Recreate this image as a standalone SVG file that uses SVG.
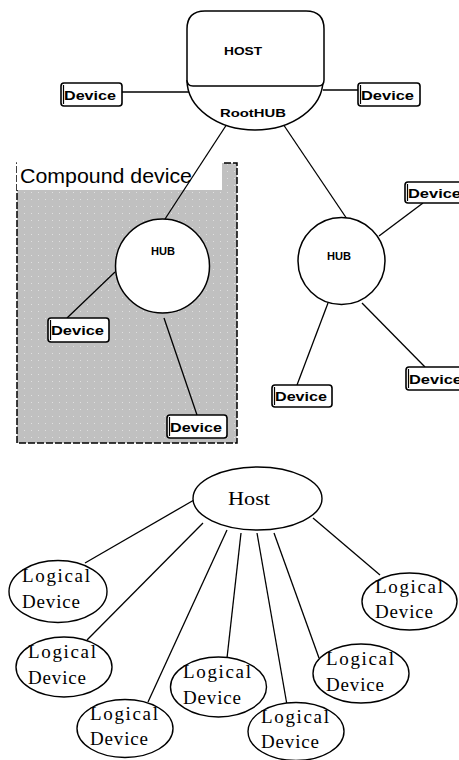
<svg xmlns="http://www.w3.org/2000/svg" width="459" height="760" viewBox="0 0 459 760">
<defs>
<pattern id="dots" x="0" y="0" width="7" height="7" patternUnits="userSpaceOnUse">
<rect width="7" height="7" fill="#c0c0c0"/>
<rect x="3" y="3" width="1" height="1" fill="#e0e0e0"/>
</pattern>
</defs>
<style>
.ln{stroke:#000;stroke-width:1.3;fill:none}
.shape{stroke:#000;stroke-width:1.5;fill:#fff}
.dev{stroke:#000;stroke-width:1.6;fill:#fff}
.devin{stroke:#000;stroke-width:1.2;fill:none}
.devt{font-family:"Liberation Sans",Arial,sans-serif;font-weight:bold;font-size:13px;fill:#000}
.hub{font-family:"Liberation Sans",Arial,sans-serif;font-weight:bold;font-size:11px;fill:#000;text-anchor:middle}
.ser{font-family:"Liberation Serif","Times New Roman",serif;font-size:19px;fill:#000}
.lg{stroke:#000;stroke-width:1.4;fill:#fff}
</style>
<rect width="459" height="760" fill="#fff"/>

<g id="compound">
<rect x="17" y="163" width="220" height="280" fill="url(#dots)" stroke="#000" stroke-width="1.5" stroke-dasharray="7 2"/>
<rect x="17" y="162" width="205" height="28" fill="#fff"/>
<text x="20" y="183" font-family="'Liberation Sans',Arial,sans-serif" font-size="20" textLength="172" lengthAdjust="spacingAndGlyphs">Compound device</text>
</g>

<g id="connectors">
<line class="ln" x1="121" y1="92" x2="190" y2="92"/>
<line class="ln" x1="323" y1="90" x2="358" y2="90"/>
<line class="ln" x1="227" y1="124" x2="165" y2="219"/>
<line class="ln" x1="283" y1="124" x2="347" y2="219"/>
<line class="ln" x1="115" y1="272" x2="67" y2="318"/>
<line class="ln" x1="164" y1="318" x2="197" y2="415"/>
<line class="ln" x1="379" y1="236" x2="423" y2="203"/>
<line class="ln" x1="362" y1="303" x2="425" y2="367"/>
<line class="ln" x1="328" y1="303" x2="297" y2="385"/>
<line class="ln" x1="194" y1="500" x2="85" y2="563"/>
<line class="ln" x1="203" y1="523" x2="87" y2="640"/>
<line class="ln" x1="227" y1="530" x2="148" y2="702"/>
<line class="ln" x1="241" y1="533" x2="227" y2="658"/>
<line class="ln" x1="257" y1="533" x2="287" y2="705"/>
<line class="ln" x1="274" y1="533" x2="319" y2="658"/>
<line class="ln" x1="313" y1="518" x2="380" y2="575"/>
</g>

<g id="roothub">
<path class="shape" d="M187,80 A68,50 0 0 0 323,80"/>
<text class="hub" x="253" y="117" textLength="66" lengthAdjust="spacingAndGlyphs">RootHUB</text>
</g>
<g id="host">
<path class="shape" d="M205,11 H306 Q324,11 324,29 V80 Q324,86 318,86 H193 Q187,86 187,80 V29 Q187,11 205,11 Z"/>
<text class="hub" x="243" y="55" font-size="13" textLength="38" lengthAdjust="spacingAndGlyphs">HOST</text>
</g>

<g id="dev-left">
<rect class="dev" x="61" y="83" width="61" height="23" rx="3"/>
<line class="devin" x1="63.5" y1="85" x2="63.5" y2="104"/>
<text class="devt" x="64" y="100" textLength="52" lengthAdjust="spacingAndGlyphs">Device</text>
</g>
<g id="dev-right">
<rect class="dev" x="358" y="83" width="62" height="23" rx="3"/>
<line class="devin" x1="360.5" y1="85" x2="360.5" y2="104"/>
<text class="devt" x="361" y="100" textLength="53" lengthAdjust="spacingAndGlyphs">Device</text>
</g>

<g id="hub-compound">
<circle class="shape" cx="162.5" cy="266" r="47"/>
<text class="hub" x="163" y="255" textLength="24" lengthAdjust="spacingAndGlyphs">HUB</text>
</g>
<g id="dev-c1">
<rect class="dev" x="48" y="318" width="61" height="24" rx="3"/>
<line class="devin" x1="50.5" y1="320" x2="50.5" y2="340"/>
<text class="devt" x="51" y="335" textLength="53" lengthAdjust="spacingAndGlyphs">Device</text>
</g>
<g id="dev-c2">
<rect class="dev" x="167" y="415" width="60" height="23" rx="3"/>
<line class="devin" x1="169.5" y1="417" x2="169.5" y2="436"/>
<text class="devt" x="170" y="432" textLength="52" lengthAdjust="spacingAndGlyphs">Device</text>
</g>

<g id="hub-right">
<circle class="shape" cx="341.5" cy="261" r="43.5"/>
<text class="hub" x="339" y="260" textLength="24" lengthAdjust="spacingAndGlyphs">HUB</text>
</g>
<g id="dev-r1">
<rect class="dev" x="405" y="182" width="62" height="21" rx="3"/>
<line class="devin" x1="407.5" y1="184" x2="407.5" y2="201"/>
<text class="devt" x="408" y="198" textLength="53" lengthAdjust="spacingAndGlyphs">Device</text>
</g>
<g id="dev-r2">
<rect class="dev" x="406" y="367" width="62" height="23" rx="3"/>
<line class="devin" x1="408.5" y1="369" x2="408.5" y2="388"/>
<text class="devt" x="409" y="384" textLength="53" lengthAdjust="spacingAndGlyphs">Device</text>
</g>
<g id="dev-r3">
<rect class="dev" x="272" y="385" width="60" height="22" rx="3"/>
<line class="devin" x1="274.5" y1="387" x2="274.5" y2="405"/>
<text class="devt" x="275" y="401" textLength="52" lengthAdjust="spacingAndGlyphs">Device</text>
</g>

<g id="lhost">
<ellipse class="lg" cx="257.5" cy="498.5" rx="64.5" ry="31.5"/>
<text class="ser" x="228" y="505" textLength="42" lengthAdjust="spacingAndGlyphs">Host</text>
</g>
<g id="ld1">
<ellipse class="lg" cx="58" cy="591.5" rx="49" ry="31"/>
<text class="ser" x="22" y="582" textLength="68" lengthAdjust="spacing">Logical</text>
<text class="ser" x="22" y="608" textLength="58" lengthAdjust="spacing">Device</text>
</g>
<g id="ld2">
<ellipse class="lg" cx="64" cy="667" rx="48" ry="30"/>
<text class="ser" x="28" y="658" textLength="68" lengthAdjust="spacing">Logical</text>
<text class="ser" x="28" y="684" textLength="58" lengthAdjust="spacing">Device</text>
</g>
<g id="ld3">
<ellipse class="lg" cx="125" cy="728.5" rx="48" ry="29"/>
<text class="ser" x="90" y="720" textLength="68" lengthAdjust="spacing">Logical</text>
<text class="ser" x="90" y="745" textLength="58" lengthAdjust="spacing">Device</text>
</g>
<g id="ld4">
<ellipse class="lg" cx="218.5" cy="687" rx="48" ry="30"/>
<text class="ser" x="183" y="678" textLength="68" lengthAdjust="spacing">Logical</text>
<text class="ser" x="183" y="704" textLength="58" lengthAdjust="spacing">Device</text>
</g>
<g id="ld5">
<ellipse class="lg" cx="296" cy="731.5" rx="48" ry="29"/>
<text class="ser" x="261" y="723" textLength="68" lengthAdjust="spacing">Logical</text>
<text class="ser" x="261" y="748" textLength="58" lengthAdjust="spacing">Device</text>
</g>
<g id="ld6">
<ellipse class="lg" cx="361" cy="673.5" rx="48" ry="29.5"/>
<text class="ser" x="326" y="665" textLength="68" lengthAdjust="spacing">Logical</text>
<text class="ser" x="326" y="691" textLength="58" lengthAdjust="spacing">Device</text>
</g>
<g id="ld7">
<ellipse class="lg" cx="409.5" cy="601.5" rx="47.5" ry="28.5"/>
<text class="ser" x="375" y="593" textLength="68" lengthAdjust="spacing">Logical</text>
<text class="ser" x="375" y="618" textLength="58" lengthAdjust="spacing">Device</text>
</g>
</svg>
